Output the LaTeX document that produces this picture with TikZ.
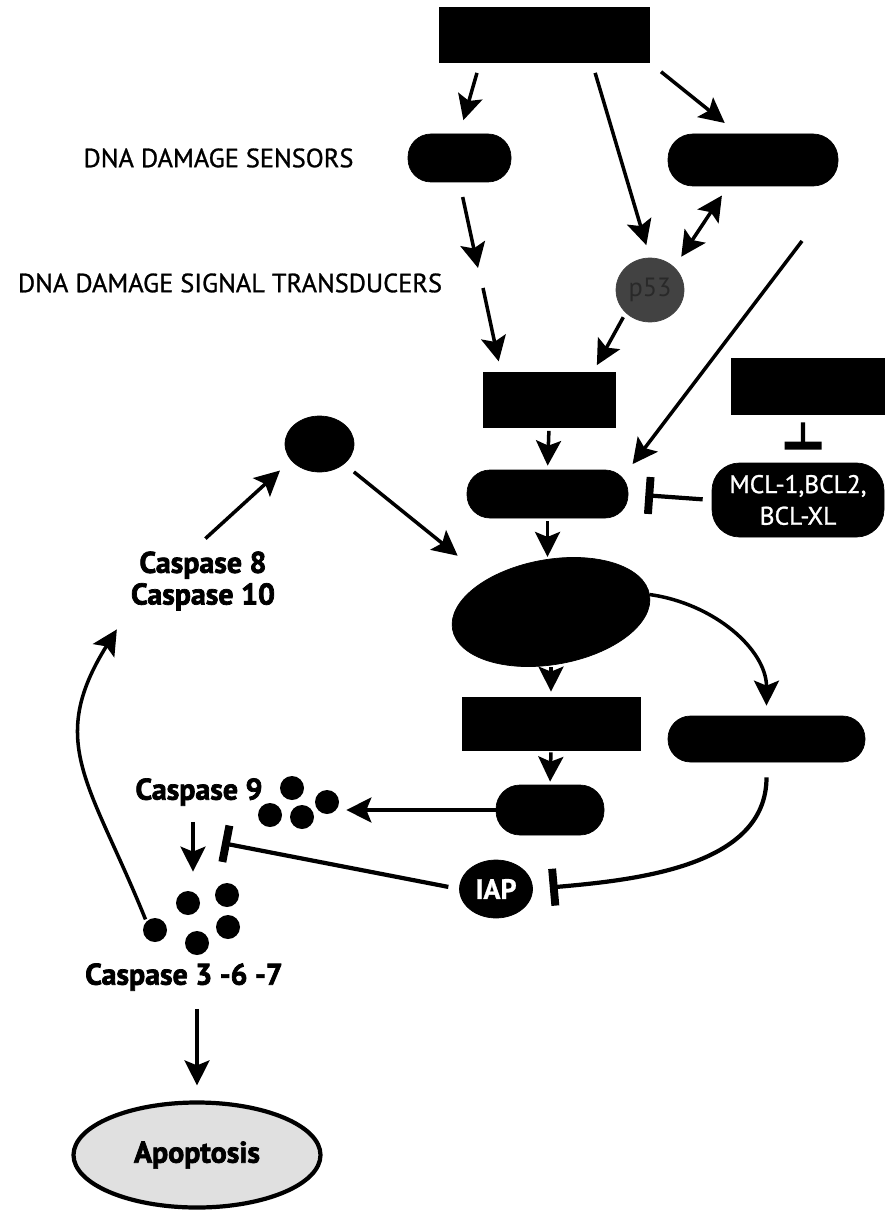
\documentclass[tikz,border=0pt]{standalone}
\usepackage{fontspec}
\setmainfont{PT Sans}
\newfontfamily\lblfont[FakeBold=1]{PT Sans}
\newfontfamily\heavyfont[FakeBold=2.4]{PT Sans Bold}
\usetikzlibrary{arrows.meta,shapes.geometric}

\begin{document}
\begin{tikzpicture}[
    blackbox/.style = {rectangle, fill=black, draw=black, inner sep=0pt},
    pill/.style     = {rectangle, fill=black, draw=black, inner sep=0pt},
    blob/.style     = {ellipse, fill=black, draw=black, inner sep=0pt},
    dot/.style      = {circle, fill=black, inner sep=0pt, minimum size=0.48cm},
    arr/.style      = {-{Stealth[length=0.5cm, width=0.5cm, inset=0.1cm]},
                       line width=2pt},
    dblarr/.style   = {{Stealth[length=0.5cm, width=0.5cm, inset=0.1cm]}-%
                       {Stealth[length=0.5cm, width=0.5cm, inset=0.1cm]},
                       line width=2pt},
    inh/.style      = {-{Bar[width=0.74cm, line width=4.5pt]}, line width=2.4pt},
    lbl/.style      = {font=\lblfont\fontsize{15}{17}\selectfont, align=center},
    casp/.style     = {font=\heavyfont\fontsize{17}{18}\selectfont, align=center},
]
\useasboundingbox (0,0) rectangle (17.8,-24.2);

% ============================================================
%  UPPER PART  -  damage signal and its sensors
% ============================================================
\node[blackbox, minimum width=4.2cm, minimum height=1.1cm] (topbox) at (10.88,-0.69) {};
\node[pill, rounded corners=0.46cm, minimum width=2.06cm, minimum height=0.96cm]
    (sensor) at (9.19,-3.16) {};
\node[pill, rounded corners=0.5cm, minimum width=3.4cm, minimum height=1.04cm]
    (rpillA) at (15.06,-3.2) {};
\node[blob, fill=black!74, draw=black!74, minimum width=1.36cm, minimum height=1.28cm,
      text=black!84, font=\fontsize{15}{15}\selectfont] (p53) at (13.0,-5.8) {p53};

\node[lbl] (sensLbl) at (4.37,-3.16) {DNA DAMAGE SENSORS};
\node[lbl] (transLbl) at (4.6,-5.66) {DNA DAMAGE SIGNAL TRANSDUCERS};

\coordinate (tdgap) at (9.56,-5.36);   % arrow stops short of the label row
\coordinate (tdgo)  at (9.66,-5.76);   % and goes on below it
\coordinate (farsrc) at (16.04,-4.82); % long line from the right

\draw[arr, shorten <=0.22cm, shorten >=0.28cm] ([xshift=-1.28cm]topbox.south) -- (sensor.north);
\draw[arr, shorten <=0.22cm, shorten >=0.26cm] ([xshift=0.96cm]topbox.south) -- (p53.north);
\draw[arr, shorten <=0.3cm, shorten >=0.34cm] (topbox.south east) -- ([xshift=-0.3cm]rpillA.north);
\draw[dblarr, shorten <=0.25cm, shorten >=0.22cm] (p53.north east) -- ([xshift=-0.5cm]rpillA.south);
\draw[arr, shorten <=0.3cm] (sensor.south) -- (tdgap);

% ============================================================
%  MIDDLE PART  -  transducer box, membrane pill, MCL-1 block
% ============================================================
\node[blackbox, minimum width=2.64cm, minimum height=1.1cm] (transbox) at (10.98,-8.0) {};
\node[blackbox, minimum width=3.06cm, minimum height=1.12cm] (rbox) at (16.15,-7.72) {};
\node[pill, rounded corners=0.46cm, minimum width=3.22cm, minimum height=0.96cm]
    (mpill) at (10.95,-9.88) {};
\node[pill, rounded corners=0.55cm, minimum width=3.44cm, minimum height=1.48cm,
      text=white, font=\lblfont\fontsize{14.5}{18}\selectfont, align=center]
    (mcl) at (15.96,-10.0) {MCL-1,BCL2,\\BCL-XL};

\draw[arr, shorten >=0.22cm] (tdgo) -- ([xshift=-0.96cm]transbox.north);
\draw[arr, shorten <=0.1cm, shorten >=0.16cm] (p53.south west) -- ([xshift=0.88cm]transbox.north);
\draw[arr, shorten >=0.14cm] (farsrc) -- (mpill.north east);
\draw[arr, shorten <=0.06cm, shorten >=0.08cm] (transbox.south) -- (mpill.north);
\draw[inh, shorten <=0.18cm, shorten >=0.34cm] (mcl.west) -- (mpill.east);
\draw[inh, shorten <=0.16cm, shorten >=0.26cm]
    ([xshift=-0.09cm]rbox.south) -- ([xshift=0.1cm]mcl.north);

% ============================================================
%  CASPASE 8 / 10 LOOP  -  small blob and the big oval
% ============================================================
\node[blob, minimum width=1.38cm, minimum height=1.12cm] (cdot) at (6.39,-8.88) {};
\node[casp] (c810) at (4.06,-11.62) {Caspase 8\\Caspase 10};
\node[blob, rotate=10, minimum width=4.0cm, minimum height=2.1cm] (bigoval) at (11.02,-12.24) {};

\draw[arr, shorten <=0.2cm, shorten >=0.3cm] ([xshift=-0.1cm]c810.north) -- (cdot.210);
\draw[arr, shorten <=0.25cm, shorten >=0.75cm] (cdot.south east) -- (bigoval.143);
\draw[arr, shorten <=0.06cm, shorten >=0.06cm] (mpill.south) -- (mpill.south |- bigoval.north);

% ============================================================
%  LOWER PART  -  boxes under the oval, IAP and caspase 9
% ============================================================
\node[blackbox, minimum width=3.56cm, minimum height=1.06cm] (midbox) at (11.02,-14.47) {};
\node[pill, rounded corners=0.45cm, minimum width=3.94cm, minimum height=0.92cm]
    (rpillB) at (15.33,-14.78) {};
\node[pill, rounded corners=0.48cm, minimum width=2.16cm, minimum height=1.0cm]
    (lpill) at (11.0,-16.2) {};
\node[blob, minimum width=1.46cm, minimum height=1.16cm, text=white,
      font=\lblfont\bfseries\fontsize{16}{16}\selectfont] (iap) at (9.92,-17.78) {IAP};

\node[casp] (c9lbl) at (3.98,-15.84) {Caspase 9};
\node[dot] (c9a) at (5.84,-15.76) {};
\node[dot] (c9b) at (6.54,-16.04) {};
\node[dot] (c9c) at (5.40,-16.30) {};
\node[dot] (c9d) at (6.04,-16.34) {};

\coordinate (c9bar) at (4.44,-16.86);  % blocked step between caspase 9 and 3

\draw[arr, shorten <=0.06cm, shorten >=0.1cm] (midbox.north |- bigoval.south) -- (midbox.north);
\draw[arr, shorten <=0.04cm, shorten >=0.06cm] (midbox.south) -- (lpill.north);
\draw[arr, shorten >=0.14cm] (lpill.west) -- (lpill.west -| c9b.east);
\draw[arr, shorten >=0.2cm] (bigoval.east) to[out=-8, in=90] (rpillB.north);
\draw[inh, shorten <=0.3cm, shorten >=0.34cm] (rpillB.south) to[out=-90, in=5] (iap.east);
\draw[inh, shorten <=0.22cm] (iap.west) -- (c9bar);

% ============================================================
%  CASPASE 3 -6 -7  and  APOPTOSIS
% ============================================================
\node[dot] (c3a) at (3.10,-18.60) {};
\node[dot] (c3b) at (3.76,-18.06) {};
\node[dot] (c3c) at (4.54,-17.90) {};
\node[dot] (c3d) at (4.56,-18.54) {};
\node[dot] (c3e) at (3.94,-18.86) {};
\node[casp] (c367) at (3.68,-19.54) {Caspase 3 -6 -7};
\node[ellipse, draw, line width=2.4pt, fill=black!12, minimum width=4.94cm,
      minimum height=2.1cm, casp] (apop) at (3.94,-23.1) {Apoptosis};

\draw[arr, shorten <=0.2cm, shorten >=0.38cm] ([xshift=-0.12cm]c9lbl.south) -- ([xshift=-0.12cm]c9lbl.south |- c3b.north);
\draw[arr, shorten <=0.24cm, shorten >=0.3cm] (apop.north |- c367.south) -- (apop.north);
\draw[arr, shorten <=0.04cm, shorten >=0.3cm] (c3a.north west) to[out=112, in=238, looseness=1.25] (c810.south west);

\end{tikzpicture}
\end{document}
